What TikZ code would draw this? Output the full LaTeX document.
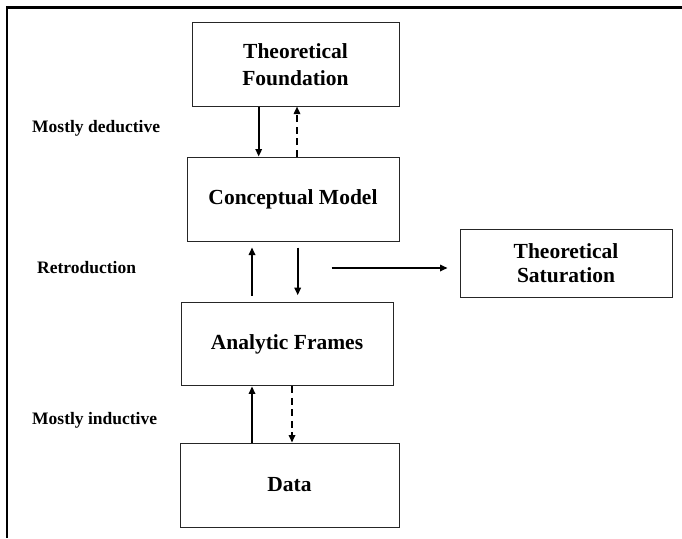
\documentclass[tikz,border=0pt]{standalone}
\usepackage{fontspec}
\setmainfont{Liberation Serif}
\usetikzlibrary{arrows.meta}
\begin{document}
\begin{tikzpicture}[x=1pt,y=-1pt,
  box/.style={draw=black!85,line width=1pt,rectangle,inner sep=0pt,align=center,
    font=\fontsize{21.5}{27}\selectfont\bfseries},
  lbl/.style={anchor=base west,inner sep=0pt,font=\fontsize{17.5}{21}\selectfont\bfseries},
  arr/.style={line width=1.6pt,-{Triangle[length=7.5pt,width=6.5pt]}},
  darr/.style={arr,dash pattern=on 7pt off 4.5pt}]
\useasboundingbox (0,0) rectangle (682,538);
% outer frame (top and left edges)
\draw[line width=2.2pt] (682,7.5) -- (6.8,7.5) -- (6.8,538);

% boxes
\node[box,minimum width=207pt,minimum height=83.3pt] (tf) at (295.5,64.4) {Theoretical\\Foundation};
\node[box,minimum width=212pt,minimum height=84pt] (cm) at (293,199) {Conceptual Model};
\node[box,minimum width=212pt,minimum height=83.3pt] (af) at (287,344.3) {Analytic Frames};
\node[box,minimum width=219pt,minimum height=84pt] (data) at (289.5,485) {Data};
\node[box,minimum width=212pt,minimum height=68pt,
  font=\fontsize{21.5}{24}\selectfont\bfseries] (ts) at (566,263) {Theoretical\\Saturation};

% side labels
\node[lbl] (ded) at (32,132.7) {Mostly deductive};
\node[lbl] (ret) at (37,273.3) {Retroduction};
\node[lbl] (ind) at (32,424) {Mostly inductive};

% theory <-> model
\draw[arr] ([xshift=-36.8pt]tf.south) -- ([xshift=-34.3pt]cm.north);
\draw[darr] ([xshift=4pt]cm.north) -- ([xshift=1.5pt]tf.south);

% model <-> frames
\draw[arr,shorten <=6.5pt,shorten >=6pt] ([xshift=-35pt]af.north) -- ([xshift=-41pt]cm.south);
\draw[arr,shorten <=6pt,shorten >=7pt] ([xshift=4.7pt]cm.south) -- ([xshift=10.7pt]af.north);

% frames <-> data
\draw[arr] ([xshift=-37.5pt]data.north) -- ([xshift=-35pt]af.south);
\draw[darr] ([xshift=5pt]af.south) -- ([xshift=2.5pt]data.north);

% towards saturation
\coordinate (hs) at (331.7,268);
\draw[arr,shorten >=12pt] (hs) -- (hs -| ts.west);
\end{tikzpicture}
\end{document}
